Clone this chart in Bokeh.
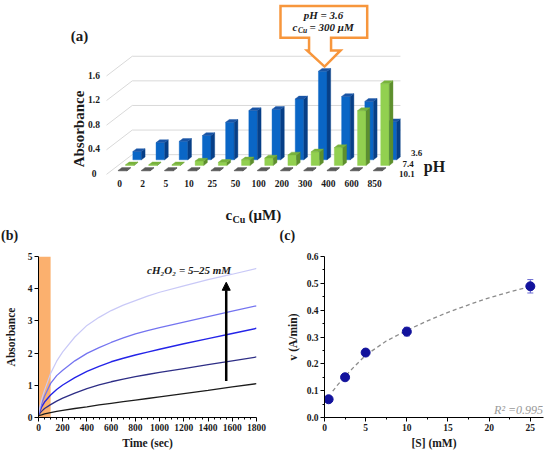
import math
from bokeh.plotting import figure
from bokeh.models import (Range1d, Label, FixedTicker, Arrow, NormalHead, Whisker,
                          ColumnDataSource, TeeHead, NumeralTickFormatter)
from bokeh.layouts import column, row
from bokeh.embed import file_html
from bokeh.resources import INLINE
from bokeh.core.properties import value

FONT = "Liberation Serif"

# ---------------- data: panel (a) ----------------
cu_labels = ["0", "2", "5", "10", "25", "50", "100", "200", "300", "400", "600", "850"]
ph_labels = ["10.1", "7.4", "3.6"]
abs_ph36 = [0.135, 0.28, 0.30, 0.395, 0.61, 0.80, 0.82, 0.99, 1.44, 1.03, 0.95, 0.62]
abs_ph74 = [0.01, 0.01, 0.01, 0.07, 0.05, 0.09, 0.12, 0.17, 0.22, 0.29, 0.89, 1.33]
abs_ph101 = [0.01, 0.01, 0.01, 0.01, 0.01, 0.01, 0.01, 0.01, 0.01, 0.01, 0.01, 0.01]
a_yticks = [0, 0.4, 0.8, 1.2, 1.6]
a_ytick_labels = ["0", "0.4", "0.8", "1.2", "1.6"]
highlight_cu = "300"

# ---------------- data: panel (b) ----------------
time_s = [0, 25, 50, 100, 150, 200, 300, 400, 500, 600, 700, 800, 900, 1000, 1200, 1400, 1600, 1800]
abs_5mM = [0.06, 0.08, 0.11, 0.15, 0.19, 0.22, 0.28, 0.33, 0.39, 0.44, 0.49, 0.54, 0.59, 0.64, 0.74, 0.84, 0.95, 1.05]
abs_10mM = [0.08, 0.19, 0.28, 0.40, 0.51, 0.60, 0.76, 0.90, 1.01, 1.11, 1.195, 1.27, 1.335, 1.40, 1.52, 1.64, 1.76, 1.88]
abs_15mM = [0.10, 0.32, 0.48, 0.70, 0.87, 1.01, 1.24, 1.43, 1.59, 1.73, 1.84, 1.94, 2.03, 2.12, 2.29, 2.45, 2.61, 2.77]
abs_20mM = [0.10, 0.42, 0.66, 1.06, 1.30, 1.47, 1.76, 1.99, 2.17, 2.33, 2.47, 2.60, 2.70, 2.79, 2.96, 3.13, 3.30, 3.47]
abs_25mM = [0.13, 0.55, 0.85, 1.37, 1.75, 2.04, 2.50, 2.86, 3.11, 3.32, 3.49, 3.63, 3.77, 3.89, 4.09, 4.28, 4.45, 4.63]
shade_t = [0, 100]
b_xticks = [0, 200, 400, 600, 800, 1000, 1200, 1400, 1600, 1800]
b_yticks = [0, 1, 2, 3, 4, 5]

# ---------------- data: panel (c) ----------------
S_mM = [0.5, 2.5, 5, 10, 25]
v_rate = [0.068, 0.150, 0.242, 0.320, 0.489]
v_err = [0.004, 0.005, 0.012, 0.016, 0.025]
fit_S = [1.0, 1.5, 2.5, 3.5, 5, 7.5, 10, 12.5, 15, 17.5, 20, 22.5, 25]
fit_v = [0.098, 0.118, 0.153, 0.186, 0.232, 0.285, 0.325, 0.360, 0.392, 0.420, 0.446, 0.468, 0.488]
c_xticks = [0, 5, 10, 15, 20, 25]
c_yticks = [0, 0.1, 0.2, 0.3, 0.4, 0.5, 0.6]
r2_text = "R\u00b2 =0.995"

# =====================================================
# Panel (a): pseudo-3D column chart (also hosts the (b)/(c) tags)
# =====================================================
A_H = 243
PX_X, PX_Y = 23.2, 61.5
REF_X0, REF_Y0 = 119.0, 170.5


def ax_x(px):
    return (px - REF_X0) / PX_X


def ax_y(py):
    return (REF_Y0 - py) / PX_Y


DX, DY, X0 = 0.315, 0.091, 0.13
HW, DEPTH = 0.185, 0.5


def proj(i, v, d):
    return i + X0 + DX * d, v + DY * d


pA = figure(width=550, height=A_H, x_range=Range1d(ax_x(0), ax_x(550)),
            y_range=Range1d(ax_y(A_H), ax_y(0)), x_axis_type=None, y_axis_type=None,
            output_backend="svg", toolbar_location=None, min_border=0)
pA.outline_line_color = None

# walls / gridlines
gx, gy = [], []
for v in a_yticks:
    p1 = proj(-0.5, v, -0.6)
    p2 = proj(-0.5, v, 2.92)
    p3 = proj(11.06, v, 2.92)
    gx.append([p1[0], p2[0], p3[0]])
    gy.append([p1[1], p2[1], p3[1]])
pA.multi_line(gx, gy, line_color="#d9d9d9", line_width=1)

rows_spec = [
    (2, abs_ph36, ("#0a66c6", "#073f87", "#1a55a6")),
    (1, abs_ph74, ("#92d050", "#5d8f2d", "#78b33c")),
    (0, abs_ph101, ("#5c5c5c", "#3c3c3c", "#5a5a5a")),
]
ddx, ddy = DX * DEPTH, DY * DEPTH
for d, vals, (cf, cs, ct) in rows_spec:
    xs, ys, cols = [], [], []
    for i, v in enumerate(vals):
        xc, yb = proj(i, 0, d)
        l, r = xc - HW, xc + HW
        t = yb + v
        xs += [[l, r, r, l], [r, r + ddx, r + ddx, r], [l, r, r + ddx, l + ddx]]
        ys += [[yb, yb, t, t], [yb, yb + ddy, t + ddy, t], [t, t, t + ddy, t + ddy]]
        cols += [cf, cs, ct]
    pA.patches(xs, ys, fill_color=cols, line_color=cols, line_width=0.4)

# category labels
pA.text(x=list(range(len(cu_labels))), y=[ax_y(183.3)] * len(cu_labels), text=cu_labels,
        text_font=value(FONT), text_font_size="9.5px", text_font_style="bold",
        text_align="center", text_baseline="middle", text_color="#1a1a1a")
# value labels
pA.text(x=[ax_x(93.5)] * len(a_yticks), y=[proj(-0.5, v, -0.6)[1] + 0.015 for v in a_yticks],
        text=a_ytick_labels, text_font=value(FONT), text_font_size="9.5px", text_font_style="bold",
        text_align="center", text_baseline="middle", text_color="#1a1a1a")
# depth labels
pA.text(x=[ax_x(398.5), ax_x(402.0), ax_x(410.5)], y=[ax_y(173.3), ax_y(163.3), ax_y(152.7)],
        text=ph_labels, text_font=value(FONT), text_font_size="9px", text_font_style="bold",
        text_align="left", text_baseline="middle", text_color="#1a1a1a")


def lab(p, x, y, text, size, style="bold", align="left", color="#1a1a1a", angle=0.0):
    p.add_layout(Label(x=x, y=y, text=text, text_font=FONT, text_font_size=size,
                       text_font_style=style, text_align=align, text_baseline="middle",
                       text_color=color, angle=angle))


lab(pA, ax_x(434), ax_y(165.5), "pH", "16px", align="center")
lab(pA, ax_x(78.5), ax_y(128.5), "Absorbance", "15px", align="center", angle=math.pi / 2)
lab(pA, ax_x(79), ax_y(35), "(a)", "15px", align="center")
lab(pA, ax_x(225), ax_y(214), "c", "15px")
lab(pA, ax_x(232), ax_y(218.5), "Cu", "10px")
lab(pA, ax_x(248), ax_y(214), "(\u03bcM)", "15px")
lab(pA, ax_x(0.5), ax_y(235), "(b)", "14px")
lab(pA, ax_x(279), ax_y(235), "(c)", "14px")

# callout pointing to the highlighted bar
ih = cu_labels.index(highlight_cu)
hx, hb = proj(ih, 0, 2)
tip_x = hx + ddx / 2
tip_y = hb + abs_ph36[ih] + ddy + 0.03
tip_px = REF_X0 + tip_x * PX_X
bx0, bx1, by0, by1 = 280.0, 366.7, 5.5, 37.3
sh_l, sh_r, hd_l, hd_r, hd_y = tip_px - 15.5, tip_px + 6.5, tip_px - 17.5, tip_px + 16.0, 50.0
cpx = [bx0, bx1, bx1, sh_r, sh_r, hd_r, None, hd_l, sh_l, sh_l, bx0]
cpy = [by0, by0, by1, by1, hd_y, hd_y, None, hd_y, hd_y, by1, by1]
call_x = [tip_x if px is None else ax_x(px) for px in cpx]
call_y = [tip_y if py is None else ax_y(py) for py in cpy]
pA.patch(call_x, call_y, fill_color="white", line_color="#f7963c", line_width=2.5, line_join="miter")
lab(pA, ax_x(323), ax_y(14), "pH = 3.6", "11px", style="bold italic", align="center")
lab(pA, ax_x(292), ax_y(26.7), "c", "11px", style="bold italic")
lab(pA, ax_x(297.5), ax_y(29.7), "Cu", "7.5px", style="bold italic")
lab(pA, ax_x(309), ax_y(26.7), "= 300 \u03bcM", "11px", style="bold italic")


# =====================================================
# common axis styling
# =====================================================
def style_axes(p, tick_size="9.5px", title_size="11.5px"):
    p.grid.visible = False
    p.outline_line_color = None
    for ax in (p.xaxis[0], p.yaxis[0]):
        ax.axis_line_color = "black"
        ax.axis_line_width = 1
        ax.major_tick_line_color = "black"
        ax.minor_tick_line_color = "black"
        ax.major_tick_in = 0
        ax.major_tick_out = 4
        ax.minor_tick_in = 0
        ax.minor_tick_out = 2
        ax.major_label_text_font = FONT
        ax.major_label_text_font_style = "bold"
        ax.major_label_text_font_size = tick_size
        ax.major_label_text_color = "#1a1a1a"
        ax.major_label_standoff = 2
        ax.axis_label_text_font = FONT
        ax.axis_label_text_font_style = "bold"
        ax.axis_label_text_font_size = title_size
        ax.axis_label_text_color = "#1a1a1a"


BC_H = 451 - A_H

# =====================================================
# Panel (b): kinetic curves
# =====================================================
pB = figure(width=275, height=BC_H, x_range=Range1d(0, 1800), y_range=Range1d(0, 5),
            output_backend="svg", toolbar_location=None,
            min_border_left=38, min_border_right=19, min_border_top=13, min_border_bottom=33)
style_axes(pB)
pB.xaxis.axis_label = "Time (sec)"
pB.yaxis.axis_label = "Absorbance"
pB.xaxis.axis_label_standoff = 3
pB.yaxis.axis_label_standoff = 8
pB.xaxis.ticker = FixedTicker(ticks=b_xticks, minor_ticks=list(range(50, 1800, 50)))
pB.yaxis.ticker = FixedTicker(ticks=b_yticks)

pB.quad(left=[shade_t[0]], right=[shade_t[1]], bottom=[0], top=[5],
        fill_color="#fbb06e", line_color=None)
series_b = [
    (abs_5mM, "#1c1c1c", 1.3),
    (abs_10mM, "#2e2e86", 1.3),
    (abs_15mM, "#2424e8", 1.4),
    (abs_20mM, "#7474f0", 1.3),
    (abs_25mM, "#c9c9f7", 1.2),
]
for vals, col, lw in series_b:
    pB.line(time_s, vals, line_color=col, line_width=lw)

pB.add_layout(Arrow(end=NormalHead(size=8, fill_color="black", line_color="black"),
                    x_start=1550, y_start=1.13, x_end=1550, y_end=4.2,
                    line_color="black", line_width=2.5))
lab(pB, 1243, 4.59, "cH\u2082O\u2082 = 5\u201325 mM", "11px", style="bold italic", align="center")

# =====================================================
# Panel (c): Michaelis-Menten
# =====================================================
pC = figure(width=275, height=BC_H, x_range=Range1d(0, 26.6), y_range=Range1d(0, 0.6),
            output_backend="svg", toolbar_location=None,
            min_border_left=49, min_border_right=7, min_border_top=9, min_border_bottom=33)
style_axes(pC)
pC.xaxis.axis_label = "[S] (mM)"
pC.yaxis.axis_label = "v (A/min)"
pC.xaxis.axis_label_standoff = 3
pC.yaxis.axis_label_standoff = 5
pC.xaxis.ticker = FixedTicker(ticks=c_xticks, minor_ticks=[2.5, 7.5, 12.5, 17.5, 22.5])
pC.yaxis.ticker = FixedTicker(ticks=c_yticks, minor_ticks=[0.05, 0.15, 0.25, 0.35, 0.45, 0.55])
pC.yaxis.formatter = NumeralTickFormatter(format="0.0")

pC.line(fit_S, fit_v, line_color="#8c8c8c", line_width=1.3, line_dash="4 3")
src = ColumnDataSource(dict(S=S_mM, v=v_rate,
                            lo=[a - b for a, b in zip(v_rate, v_err)],
                            up=[a + b for a, b in zip(v_rate, v_err)]))
pC.add_layout(Whisker(source=src, base="S", lower="lo", upper="up",
                      line_color="#6a6ad2", line_width=1,
                      lower_head=TeeHead(size=6, line_color="#6a6ad2", line_width=1),
                      upper_head=TeeHead(size=6, line_color="#6a6ad2", line_width=1)))
pC.scatter("S", "v", source=src, size=9, fill_color="#12129c", line_color="#12129c")
lab(pC, 26.55, 0.028, r2_text, "12px", style="italic", align="right", color="#9a9a9a")

layout = column(pA, row(pB, pC))
open("out.html", "w").write(file_html(layout, INLINE))
